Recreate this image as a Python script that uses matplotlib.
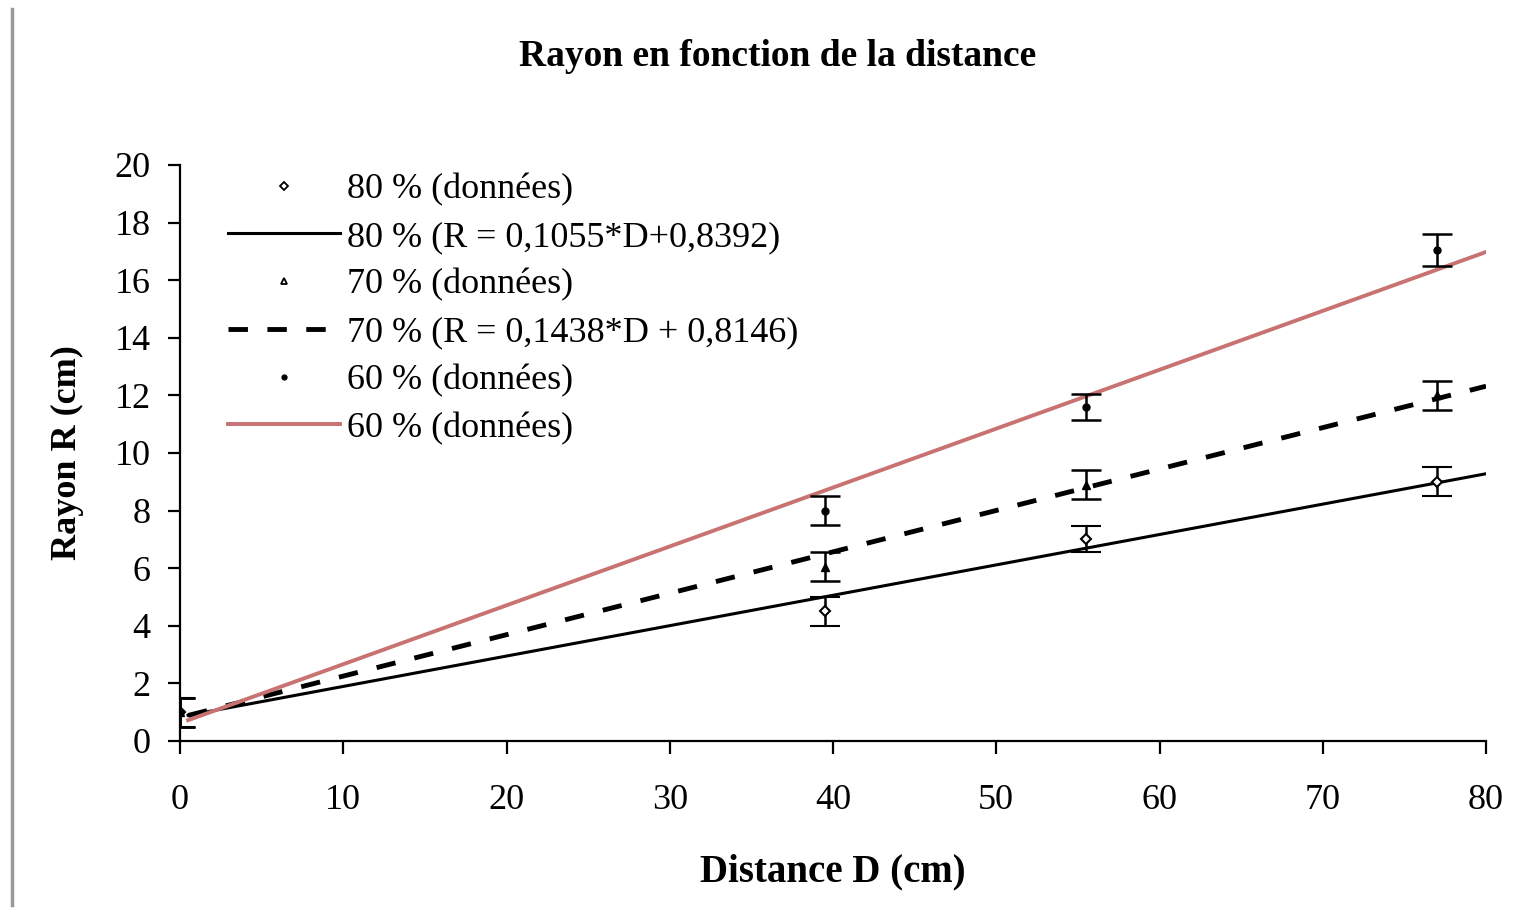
import numpy as np
import matplotlib
matplotlib.use("Agg")
import matplotlib.pyplot as plt
from matplotlib.lines import Line2D

plt.rcParams['font.family'] = ['Liberation Serif', 'DejaVu Serif']

# Data
distances = [0, 39.5, 55.5, 77]
r80 = [1.0, 4.5, 7.0, 9.0]
err80 = [0.5, 0.5, 0.45, 0.5]
r70 = [1.0, 6.05, 8.9, 12.0]
err70 = [0.5, 0.5, 0.5, 0.5]
r60 = [1.0, 8.0, 11.6, 17.05]
err60 = [0.5, 0.5, 0.45, 0.55]

fit_x = [0.5, 80]
slope80, icpt80 = 0.1055, 0.8392
slope70, icpt70 = 0.1438, 0.8146
slope60, icpt60 = 0.2045, 0.62

labels = ["80 % (données)", "80 % (R = 0,1055*D+0,8392)",
          "70 % (données)", "70 % (R = 0,1438*D + 0,8146)",
          "60 % (données)", "60 % (données)"]
xticks = list(range(0, 81, 10))
yticks = list(range(0, 21, 2))

RED = '#c87272'

fig = plt.figure(figsize=(15.24, 9.14), dpi=100)
ax = fig.add_axes([0.1181, 0.1893, 0.8570, 0.6302])

fx = np.array(fit_x)
ax.errorbar(distances, r80, yerr=err80, fmt='D', ms=5, mfc='white', mec='black', mew=1.5,
            ecolor='black', elinewidth=1.8, capsize=11, capthick=1.8, zorder=4)
ax.plot(fx, slope80 * fx + icpt80, color='black', lw=2.2, zorder=3)
ax.errorbar(distances, r70, yerr=err70, fmt='^', ms=6, mfc='black', mec='black',
            ecolor='black', elinewidth=1.8, capsize=11, capthick=1.8, zorder=4)
ax.plot(fx, slope70 * fx + icpt70, color='black', lw=3.5, ls=(0, (4, 4)), zorder=3)
ax.errorbar(distances, r60, yerr=err60, fmt='o', ms=5, mfc='black', mec='black',
            ecolor='black', elinewidth=1.8, capsize=11, capthick=1.8, zorder=4)
ax.plot(fx, slope60 * fx + icpt60, color=RED, lw=2.8, zorder=3)

ax.set_xlim(0, 80)
ax.set_ylim(0, 20)
ax.set_xticks(xticks)
ax.set_yticks(yticks)
ax.tick_params(axis='both', labelsize=26, direction='out', length=9, width=1.6)
ax.tick_params(axis='x', pad=22)
ax.tick_params(axis='y', pad=12)
for s in ['top', 'right']:
    ax.spines[s].set_visible(False)
for s in ['left', 'bottom']:
    ax.spines[s].set_linewidth(1.6)

ax.set_xlabel("Distance D (cm)", fontsize=28, fontweight='bold', labelpad=26)
ax.set_ylabel("Rayon R (cm)", fontsize=26, fontweight='bold', labelpad=22)
fig.text(0.51, 0.938, "Rayon en fonction de la distance", fontsize=27,
         fontweight='bold', ha='center', va='center')

leg_handles = [
    Line2D([], [], ls='none', marker='D', ms=4, mfc='white', mec='black', mew=1.3),
    Line2D([], [], color='black', lw=2.2),
    Line2D([], [], ls='none', marker='^', ms=5, mfc='white', mec='black', mew=1.3),
    Line2D([], [], color='black', lw=3.5, ls=(0, (4, 4))),
    Line2D([], [], ls='none', marker='o', ms=3.5, mfc='black', mec='black'),
    Line2D([], [], color=RED, lw=2.8),
]
ax.legend(leg_handles, labels, loc='upper left', bbox_to_anchor=(0.037, 0.986),
          frameon=False, fontsize=26, handlelength=3.1, handletextpad=0.2,
          labelspacing=0.4, borderaxespad=0, borderpad=0)

fig.add_artist(Line2D([0.008, 0.008], [0.01, 0.99], color='#999999', lw=2.5,
                      transform=fig.transFigure))

fig.savefig("out.png", dpi=100)
